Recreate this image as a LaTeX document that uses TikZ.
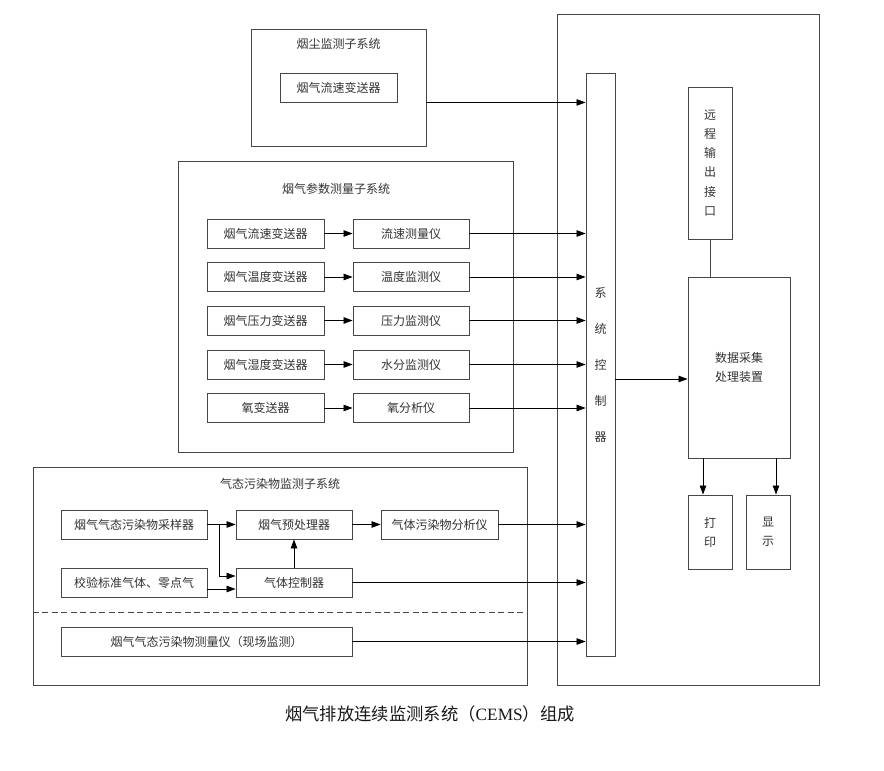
\documentclass[tikz,border=0pt]{standalone}
\usepackage{fontspec}
\setmainfont{Liberation Serif}
\newfontfamily\cjk{Noto Sans CJK SC}
\usetikzlibrary{arrows.meta,calc}
\tikzset{
  box/.style={draw=black!72, line width=0.9pt, inner sep=0pt, rectangle, text=black!80,
    font={\cjk\fontsize{12}{14}\selectfont}},
  frame/.style={draw=black!72, line width=0.9pt, inner sep=0pt, rectangle},
  ttl/.style={inner sep=0pt, text=black!80, font={\cjk\fontsize{12}{14}\selectfont}},
  arr/.style={draw=black, line width=0.8pt, -{Triangle[length=9pt,width=6.5pt]}},
  ln/.style={draw=black!72, line width=0.9pt},
}
\begin{document}
\begin{tikzpicture}[x=1pt,y=-1pt]
\useasboundingbox (0,0) rectangle (884,771);
\fill[white] (0,0) rectangle (884,771);
% big right frame and controller
\node[frame, minimum width=262pt, minimum height=671pt] (big) at (688,349.5) {};
\node[box, minimum width=29pt, minimum height=583pt, align=center,
  font={\cjk\fontsize{12}{36}\selectfont}] (ctrl) at (600.5,364.5) {系\\统\\控\\制\\器};
% dust subsystem
\node[frame, minimum width=175pt, minimum height=117pt] (dust) at (338.5,87.5) {};
\node[ttl] (dustT) at (338.5,44) {烟尘监测子系统};
\node[box, minimum width=117pt, minimum height=29pt] (dustS) at (338.5,87.5) {烟气流速变送器};
\draw[arr] (dust.east |- dustS.south) -- (ctrl.west |- dustS.south);
% parameter subsystem
\node[frame, minimum width=335pt, minimum height=291pt] (par) at (345.5,306.5) {};
\node[ttl] (parT) at (336,189) {烟气参数测量子系统};
\foreach \i/\y/\a/\b in {1/233.5/烟气流速变送器/流速测量仪, 2/277/烟气温度变送器/温度监测仪,
  3/320.5/烟气压力变送器/压力监测仪, 4/364.5/烟气湿度变送器/水分监测仪, 5/408/氧变送器/氧分析仪}{
  \node[box, minimum width=117pt, minimum height=29pt] (pl\i) at (265.5,\y) {\a};
  \node[box, minimum width=116pt, minimum height=29pt] (pr\i) at (411,\y) {\b};
  \draw[arr] (pl\i.east) -- (pr\i.west);
  \draw[arr] (pr\i.east) -- (ctrl.west |- pr\i.east);
}
% gaseous pollutant subsystem
\node[frame, minimum width=494pt, minimum height=218pt] (gas) at (280,576) {};
\node[ttl] (gasT) at (280,484) {气态污染物监测子系统};
\node[box, minimum width=146pt, minimum height=29pt] (g1) at (134,524.5) {烟气气态污染物采样器};
\node[box, minimum width=116pt, minimum height=29pt] (g2) at (294,524.5) {烟气预处理器};
\node[box, minimum width=117pt, minimum height=29pt] (g3) at (439.5,524.5) {气体污染物分析仪};
\node[box, minimum width=146pt, minimum height=29pt] (g4) at (134,582.5) {校验标准气体、零点气};
\node[box, minimum width=116pt, minimum height=29pt] (g5) at (294,582.5) {气体控制器};
\node[box, minimum width=291pt, minimum height=29pt] (g6) at (206.5,641.5) {烟气气态污染物测量仪（现场监测）};
\coordinate (br) at (219,524.5);
\coordinate (brd) at (219,576);
\draw[arr] (g1.east) -- (g2.west);
\draw[arr] (br) -- (brd) -- (g5.west |- brd);
\draw[arr] (g4.east |- 0,589) -- (g5.west |- 0,589);
\draw[arr] (g5.north) -- (g2.south);
\draw[arr] (g2.east) -- (g3.west);
\draw[arr] (g3.east) -- (ctrl.west |- g3.east);
\draw[arr] (g5.east) -- (ctrl.west |- g5.east);
\draw[arr] (g6.east) -- (ctrl.west |- g6.east);
\draw[ln, dashed, dash pattern=on 6pt off 3.5pt] (gas.west |- 0,612) -- (gas.east |- 0,612);
% right side
\node[box, minimum width=44pt, minimum height=152pt, align=center,
  font={\cjk\fontsize{12}{19.2}\selectfont}] (remote) at (710,163) {远\\程\\输\\出\\接\\口};
\node[box, minimum width=102pt, minimum height=181pt, align=center,
  font={\cjk\fontsize{12}{19}\selectfont}] (data) at (739,367.5) {数据采集\\处理装置};
\node[box, minimum width=44pt, minimum height=74pt, align=center,
  font={\cjk\fontsize{12}{19}\selectfont}] (print) at (710,532) {打\\印};
\node[box, minimum width=44pt, minimum height=74pt, align=center,
  font={\cjk\fontsize{12}{19}\selectfont}] (disp) at (768,532) {显\\示};
\draw[ln] (remote.south) -- (remote.south |- data.north);
\draw[arr] (ctrl.east |- 0,379) -- (data.west |- 0,379);
\draw[arr] (data.south -| 703,0) -- (print.north -| 703,0);
\draw[arr] (data.south -| 776,0) -- (disp.north -| 776,0);
% caption
\node[inner sep=0pt, text=black!90, font={\fontsize{17.3}{19}\selectfont}] (cap) at (430,714)
  {{\cjk 烟气排放连续监测系统（}CEMS{\cjk ）组成}};
\end{tikzpicture}
\end{document}
